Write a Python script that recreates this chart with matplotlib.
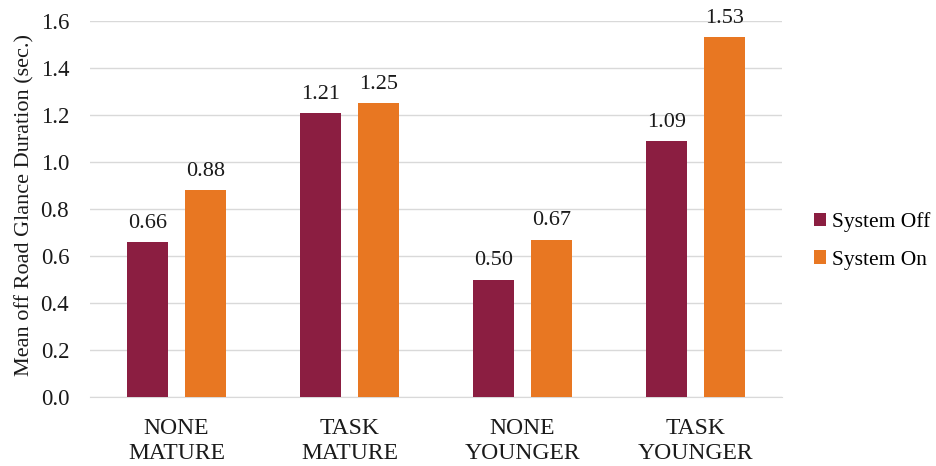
import matplotlib
matplotlib.use("Agg")
import matplotlib.pyplot as plt
import numpy as np

categories = ["NONE\nMATURE", "TASK\nMATURE", "NONE\nYOUNGER", "TASK\nYOUNGER"]
system_off = [0.66, 1.21, 0.50, 1.09]
system_on = [0.88, 1.25, 0.67, 1.53]
series_names = ["System Off", "System On"]
colors = ["#8B1E41", "#E87722"]
yticks = [0.0, 0.2, 0.4, 0.6, 0.8, 1.0, 1.2, 1.4, 1.6]

plt.rcParams["font.family"] = ["Liberation Serif", "DejaVu Serif"]
text_color = "#1a1a1a"

fig = plt.figure(figsize=(9.37, 4.66), dpi=100)
ax = fig.add_axes([90 / 937, 69 / 466, 692 / 937, 376 / 466])

x = np.arange(len(categories))
w = 0.237
off = 0.168
b1 = ax.bar(x - off, system_off, w, color=colors[0], label=series_names[0], zorder=3)
b2 = ax.bar(x + off, system_on, w, color=colors[1], label=series_names[1], zorder=3)

# value labels above each bar
for bars, vals in ((b1, system_off), (b2, system_on)):
    for rect, v in zip(bars, vals):
        ax.text(rect.get_x() + rect.get_width() / 2, v + 0.06, f"{v:.2f}",
                ha="center", va="baseline", fontsize=16, color=text_color)

ax.set_xlim(-0.5, len(categories) - 0.5)
ax.set_ylim(0, 1.6)
ax.set_yticks(yticks)
ax.set_yticklabels([f"{t:.1f}" for t in yticks], fontsize=16.5, color=text_color)
ax.set_xticks(x)
ax.set_xticklabels(categories, fontsize=17, color=text_color, linespacing=1.25)
ax.tick_params(axis="both", length=0)
ax.tick_params(axis="x", pad=15)
ax.tick_params(axis="y", pad=15)
ax.grid(axis="y", color="#D9D9D9", linewidth=1, zorder=0)
for s in ("top", "right", "left"):
    ax.spines[s].set_visible(False)
ax.spines["bottom"].set_color("#D9D9D9")
ax.set_ylabel("Mean off Road Glance Duration (sec.)", fontsize=16, color=text_color)
ax.yaxis.set_label_coords(-0.080, 0.51)

ax.legend(loc="center left", bbox_to_anchor=(1.018, 0.415), frameon=False, fontsize=15.5,
          handlelength=0.56, handleheight=0.56, handletextpad=0.3, labelspacing=0.85)

fig.savefig("out.png", dpi=100)
